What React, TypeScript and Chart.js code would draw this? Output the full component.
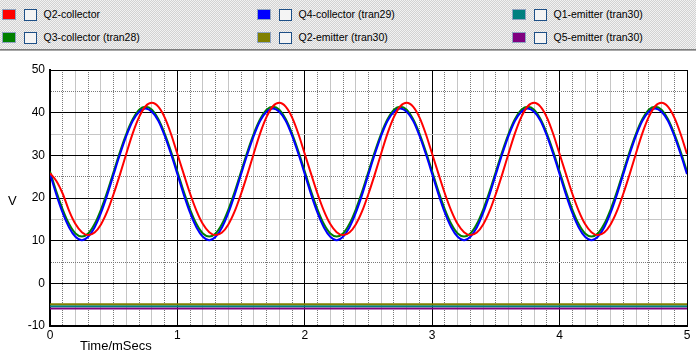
import React, { useEffect, useRef } from "react";
import { Chart, registerables } from "chart.js";

Chart.register(...registerables);

// Sampling step of the waveform readings (ms)
const TIME_STEP_MS = 0.05;

// Q2-collector (red), read every 0.05 ms from 0 to 5 ms
const q2Collector = [
  25.8, 24.0, 21.0, 17.0, 13.9, 12.0, 11.3, 11.9, 13.8, 16.9, 21.0, 25.6, 30.5, 35.2, 39.0, 41.5, 42.3, 41.4, 38.9, 35.0,
  30.3, 25.6, 21.0, 17.0, 13.9, 12.0, 11.3, 11.9, 13.8, 16.9, 21.0, 25.6, 30.5, 35.2, 39.0, 41.5, 42.3, 41.4, 38.9, 35.0,
  30.3, 25.6, 21.0, 17.0, 13.9, 12.0, 11.3, 11.9, 13.8, 16.9, 21.0, 25.6, 30.5, 35.2, 39.0, 41.5, 42.3, 41.4, 38.9, 35.0,
  30.3, 25.6, 21.0, 17.0, 13.9, 12.0, 11.3, 11.9, 13.8, 16.9, 21.0, 25.6, 30.5, 35.2, 39.0, 41.5, 42.3, 41.4, 38.9, 35.0,
  30.3, 25.6, 21.0, 17.0, 13.9, 12.0, 11.3, 11.9, 13.8, 16.9, 21.0, 25.6, 30.5, 35.2, 39.0, 41.5, 42.3, 41.4, 38.9, 35.0,
  30.3,
];

// Q4-collector (tran29) (blue)
const q4Collector = [
  25.7, 20.8, 16.5, 13.1, 10.9, 10.1, 10.9, 13.1, 16.5, 20.8, 25.6, 30.3, 34.6, 38.1, 40.2, 41.0, 40.2, 38.1, 34.6, 30.3,
  25.6, 20.8, 16.5, 13.1, 10.9, 10.1, 10.9, 13.1, 16.5, 20.8, 25.6, 30.3, 34.6, 38.1, 40.2, 41.0, 40.2, 38.1, 34.6, 30.3,
  25.6, 20.8, 16.5, 13.1, 10.9, 10.1, 10.9, 13.1, 16.5, 20.8, 25.6, 30.3, 34.6, 38.1, 40.2, 41.0, 40.2, 38.1, 34.6, 30.3,
  25.6, 20.8, 16.5, 13.1, 10.9, 10.1, 10.9, 13.1, 16.5, 20.8, 25.6, 30.3, 34.6, 38.1, 40.2, 41.0, 40.2, 38.1, 34.6, 30.3,
  25.6, 20.8, 16.5, 13.1, 10.9, 10.1, 10.9, 13.1, 16.5, 20.8, 25.6, 30.3, 34.6, 38.1, 40.2, 41.0, 40.2, 38.1, 34.6, 30.3,
  25.6,
];

// Q3-collector (tran28) (green)
const q3Collector = [
  26.2, 21.5, 17.3, 13.9, 11.7, 11.0, 11.7, 13.9, 17.3, 21.5, 26.2, 30.9, 35.1, 38.5, 40.7, 41.4, 40.7, 38.5, 35.1, 30.9,
  26.2, 21.5, 17.3, 13.9, 11.7, 11.0, 11.7, 13.9, 17.3, 21.5, 26.2, 30.9, 35.1, 38.5, 40.7, 41.4, 40.7, 38.5, 35.1, 30.9,
  26.2, 21.5, 17.3, 13.9, 11.7, 11.0, 11.7, 13.9, 17.3, 21.5, 26.2, 30.9, 35.1, 38.5, 40.7, 41.4, 40.7, 38.5, 35.1, 30.9,
  26.2, 21.5, 17.3, 13.9, 11.7, 11.0, 11.7, 13.9, 17.3, 21.5, 26.2, 30.9, 35.1, 38.5, 40.7, 41.4, 40.7, 38.5, 35.1, 30.9,
  26.2, 21.5, 17.3, 13.9, 11.7, 11.0, 11.7, 13.9, 17.3, 21.5, 26.2, 30.9, 35.1, 38.5, 40.7, 41.4, 40.7, 38.5, 35.1, 30.9,
  26.2,
];

// Flat emitter traces (start and end of the run)
const flatTimes = [0, 5];
const q2Emitter = [-4.9, -4.9]; // olive
const q1Emitter = [-5.4, -5.4]; // teal
const q5Emitter = [-5.9, -5.9]; // purple

const legendNames = [
  "Q2-collector",
  "Q4-collector (tran29)",
  "Q1-emitter (tran30)",
  "Q3-collector (tran28)",
  "Q2-emitter (tran30)",
  "Q5-emitter (tran30)",
];
const legendColors = ["#ff0000", "#0000ff", "#008080", "#008000", "#808000", "#800080"];

const X_MIN = 0;
const X_MAX = 5;
const Y_MIN = -10;
const Y_MAX = 50;

const FONT = "'Liberation Sans', Arial, sans-serif";

const sampleTimes = q2Collector.map((_, i) => Math.round(i * TIME_STEP_MS * 100) / 100);
const toPoints = (xs: number[], ys: number[]) => ys.map((y, i) => ({ x: xs[i], y }));

function isMajor(v: number, step: number) {
  return Math.abs(v / step - Math.round(v / step)) < 1e-6;
}

export default function App() {
  const canvasRef = useRef<HTMLCanvasElement | null>(null);

  useEffect(() => {
    if (!canvasRef.current) return;
    const line = (label: string, xs: number[], ys: number[], color: string, order: number, smooth: boolean) => ({
      label,
      data: toPoints(xs, ys),
      borderColor: color,
      backgroundColor: color,
      borderWidth: 2,
      pointRadius: 0,
      fill: false,
      order,
      cubicInterpolationMode: smooth ? "monotone" : "default",
    });

    const xGridColor = (ctx: any) => {
      if (!ctx.tick) return "#000";
      const v = ctx.tick.value;
      if (isMajor(v, 1)) return "#000";
      const n = Math.round(v * 10);
      return n % 2 === 1 ? "#7a7a7a" : "#c6c6c6";
    };
    const xGridDash = (ctx: any) => {
      if (!ctx.tick) return [];
      const v = ctx.tick.value;
      if (isMajor(v, 1)) return [];
      const n = Math.round(v * 10);
      return n % 2 === 1 ? [1, 1] : [];
    };
    const yMinorDotted = (v: number) => {
      const k = Math.round((v - 5) / 10);
      return Math.abs(k % 2) === 0;
    };
    const yGridColor = (ctx: any) => {
      if (!ctx.tick) return "#000";
      const v = ctx.tick.value;
      if (isMajor(v, 10)) return "#000";
      return yMinorDotted(v) ? "#7a7a7a" : "#c6c6c6";
    };
    const yGridDash = (ctx: any) => {
      if (!ctx.tick) return [];
      const v = ctx.tick.value;
      if (isMajor(v, 10)) return [];
      return yMinorDotted(v) ? [1, 1] : [];
    };

    const chart = new Chart(canvasRef.current, {
      type: "line",
      data: {
        datasets: [
          line(legendNames[0], sampleTimes, q2Collector, legendColors[0], 0, true),
          line(legendNames[1], sampleTimes, q4Collector, legendColors[1], 1, true),
          line(legendNames[3], sampleTimes, q3Collector, legendColors[3], 2, true),
          line(legendNames[4], flatTimes, q2Emitter, legendColors[4], 3, false),
          line(legendNames[2], flatTimes, q1Emitter, legendColors[2], 3, false),
          line(legendNames[5], flatTimes, q5Emitter, legendColors[5], 3, false),
        ] as any,
      },
      options: {
        animation: false,
        responsive: false,
        devicePixelRatio: 1,
        layout: { padding: { top: 70, right: 9, bottom: 0, left: 0 } },
        plugins: { legend: { display: false }, tooltip: { enabled: false }, title: { display: false } },
        scales: {
          x: {
            type: "linear",
            min: X_MIN,
            max: X_MAX,
            afterFit: (s: any) => {
              s.height = 37;
            },
            ticks: {
              stepSize: 0.1,
              autoSkip: false,
              maxRotation: 0,
              padding: 2,
              color: "#000",
              font: { family: FONT, size: 12 },
              callback: (v: any) => (isMajor(Number(v), 1) ? String(Math.round(Number(v))) : ""),
            },
            grid: { color: xGridColor, lineWidth: 1, drawTicks: false },
            border: { display: true, color: "#000", width: 2, dash: xGridDash },
          },
          y: {
            type: "linear",
            min: Y_MIN,
            max: Y_MAX,
            afterFit: (s: any) => {
              s.width = 50;
            },
            ticks: {
              stepSize: 5,
              autoSkip: false,
              padding: 5,
              color: "#000",
              font: { family: FONT, size: 12 },
              callback: (v: any) => (isMajor(Number(v), 10) ? String(Math.round(Number(v))) : ""),
            },
            grid: { color: yGridColor, lineWidth: 1, drawTicks: false },
            border: { display: true, color: "#000", width: 2, dash: yGridDash },
          },
        },
      } as any,
    });
    return () => chart.destroy();
  }, []);

  return (
    <div
      style={{
        position: "absolute",
        left: 0,
        top: 0,
        width: 696,
        height: 363,
        background: "#ffffff",
        overflow: "hidden",
        fontFamily: FONT,
      }}
    >
      <div
        style={{
          position: "absolute",
          left: 0,
          top: 0,
          width: 696,
          height: 49,
          background: "repeating-conic-gradient(#d2d2d2 0 25%, #f2f2f2 0 50%) 0 0 / 2px 2px",
        }}
      />
      <div style={{ position: "absolute", left: 0, top: 49, width: 696, height: 1, background: "#7c7c7c" }} />
      <div style={{ position: "absolute", left: 0, top: 50, width: 696, height: 1, background: "#a8a8a8" }} />
      {legendNames.map((name, i) => {
        const colX = [2, 257, 512][i % 3];
        const rowY = [9, 32][Math.floor(i / 3)];
        return (
          <React.Fragment key={name}>
            <div
              style={{
                position: "absolute",
                left: colX,
                top: rowY,
                width: 14,
                height: 11,
                boxSizing: "border-box",
                border: "1px solid #8fa3c0",
                background: legendColors[i],
              }}
            />
            <div
              style={{
                position: "absolute",
                left: colX + 22,
                top: rowY,
                width: 13,
                height: 12,
                boxSizing: "border-box",
                border: "1px solid #1d4f86",
                background: "#f4f4f4",
              }}
            />
            <div
              style={{
                position: "absolute",
                left: colX + 41.5,
                top: rowY - 1.5,
                fontSize: 10.5,
                lineHeight: "12px",
                color: "#000",
                whiteSpace: "nowrap",
              }}
            >
              {name}
            </div>
          </React.Fragment>
        );
      })}
      <canvas
        ref={canvasRef}
        width={696}
        height={363}
        style={{ position: "absolute", left: 0, top: 0, width: 696, height: 363 }}
      />
      <div style={{ position: "absolute", left: 8, top: 194, fontSize: 13, lineHeight: "13px", color: "#000" }}>V</div>
      <div
        style={{ position: "absolute", left: 80, top: 339, fontSize: 13, lineHeight: "13px", color: "#000", whiteSpace: "nowrap" }}
      >
        Time/mSecs
      </div>
    </div>
  );
}
